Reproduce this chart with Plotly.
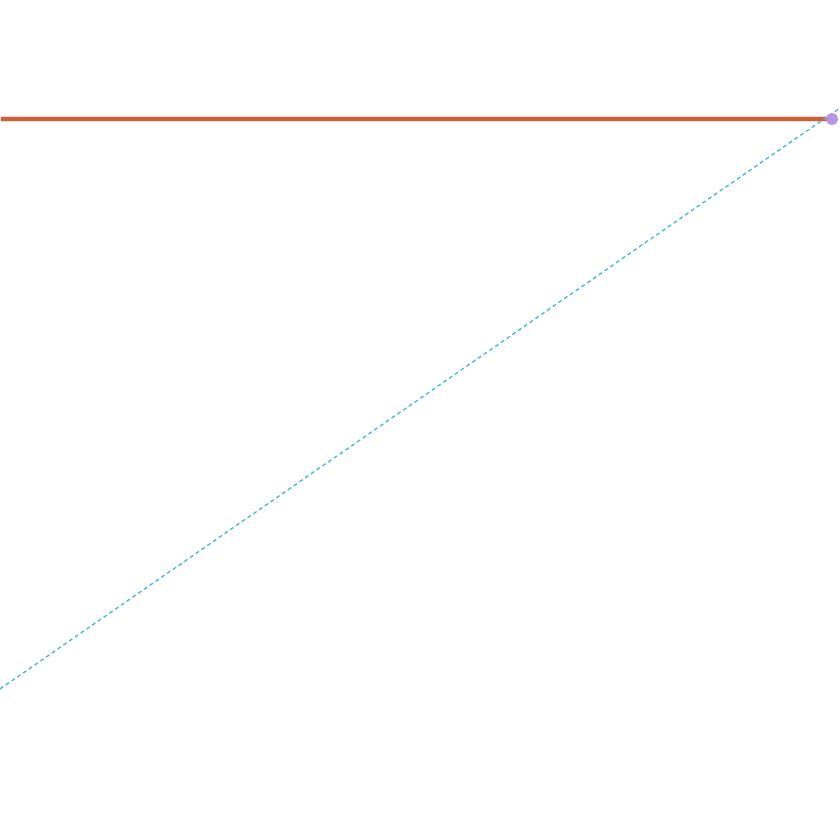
import plotly.graph_objs as go

# values in plot fraction units (axes hidden)
level_x = [0.001, 0.9905]
level_y = [0.8583, 0.8583]

trend_x = [0.0, 1.0]
trend_y = [0.1798, 0.8714]

point_x = [0.9905]
point_y = [0.8583]

fig = go.Figure()

fig.add_trace(go.Scatter(
    x=level_x,
    y=level_y,
    mode='lines',
    line=dict(color='#c8623c', width=4.5),
    showlegend=False
))

fig.add_trace(go.Scatter(
    x=trend_x,
    y=trend_y,
    mode='lines',
    line=dict(color='#4ab4da', width=1.5, dash='4px,3px'),
    showlegend=False
))

fig.add_trace(go.Scatter(
    x=point_x,
    y=point_y,
    mode='markers',
    marker=dict(color='#b994e0', size=12),
    cliponaxis=False,
    showlegend=False
))

fig.update_layout(
    width=840,
    height=840,
    margin=dict(l=0, r=0, t=0, b=0),
    paper_bgcolor='white',
    plot_bgcolor='white',
    xaxis=dict(range=[0, 1], visible=False),
    yaxis=dict(range=[0, 1], visible=False),
)

# drop the default page margin so the figure sits flush in the window
fig.write_html(
    "out.html",
    config={'displayModeBar': False},
    post_script="document.body.style.margin='0';"
)
